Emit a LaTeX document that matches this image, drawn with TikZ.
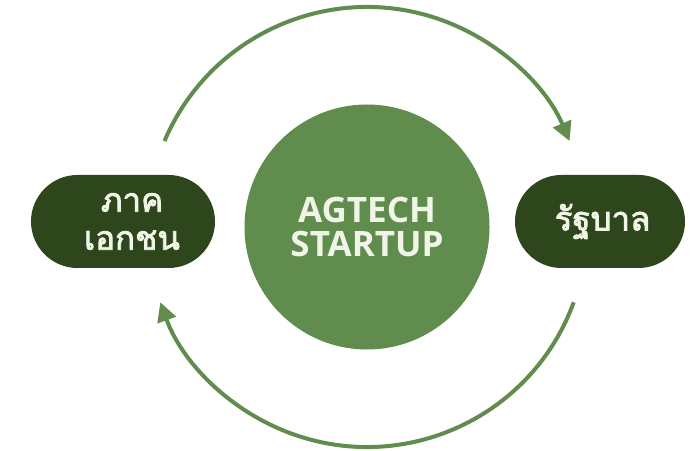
\documentclass[tikz,border=0pt]{standalone}
\usepackage{fontspec}
\setmainfont{Open Sans}
\newfontfamily\thaifont[Script=Thai,FakeBold=2.5]{Loma}
\usetikzlibrary{arrows.meta,calc}
\definecolor{darkg}{RGB}{45,70,27}
\definecolor{midg}{RGB}{96,140,78}
\definecolor{cream}{RGB}{240,245,232}
\tikzset{
  pill/.style={rounded corners=46.5pt, fill=darkg, minimum height=93pt, inner sep=0pt, text=cream, align=center},
  hub/.style={circle, fill=midg, minimum size=245pt, inner sep=0pt, text=cream, align=center},
  flow/.style={draw=midg, line width=4pt, -{Triangle[length=19pt,width=19pt]}},
  thaitext/.style={font=\thaifont\fontsize{33}{38}\selectfont},
  engtext/.style={font=\bfseries\fontsize{35}{34}\selectfont}
}
\begin{document}
\begin{tikzpicture}[x=1pt,y=1pt]
\useasboundingbox (0,0) rectangle (693,450);
\node[hub, engtext] (hub) at (367,223) {AGTECH\\STARTUP};
\node[pill, minimum width=184pt, thaitext] (priv) at (123,228.5) {\hspace*{18pt}ภาค\\\hspace*{18pt}เอกชน};
\node[pill, minimum width=170pt, thaitext] (gov) at (600,228.5) {\hspace*{5pt}รัฐบาล};
\coordinate (ts) at ($(hub.center)+(157:220)$);
\coordinate (bs) at ($(hub.center)+(-20:220)$);
\draw[flow] (ts) arc[start angle=157, end angle=23, radius=220];
\draw[flow] (bs) arc[start angle=-20, end angle=-160, radius=220];
\end{tikzpicture}
\end{document}
